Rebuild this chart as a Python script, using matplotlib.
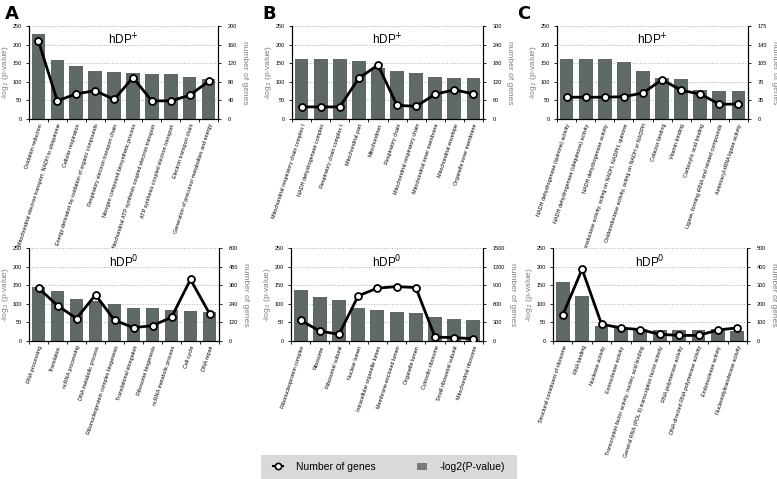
import matplotlib
matplotlib.use('Agg')
import matplotlib.pyplot as plt
from matplotlib.lines import Line2D
from matplotlib.patches import Rectangle, Patch
import numpy as np

plt.rcParams['font.family'] = ['Liberation Sans Narrow', 'Liberation Sans', 'DejaVu Sans']

# --- data ---
a_top_labels = ['Oxidation reduction',
                'Mitochondrial electron transport, NADH to ubiquinone',
                'Cellular respiration',
                'Energy derivation by oxidation of organic compounds',
                'Respiratory electron transport chain',
                'Nitrogen compound biosynthetic process',
                'Mitochondrial ATP synthesis coupled electron transport',
                'ATP synthesis coupled electron transport',
                'Electron transport chain',
                'Generation of precursor metabolites and energy']
a_top_pval = [229, 158, 142, 129, 126, 125, 122, 122, 113, 107]
a_top_genes = [167, 39, 54, 61, 42, 89, 39, 39, 51, 81]

a_bot_labels = ['RNA processing', 'Translation', 'ncRNA processing',
                'DNA metabolic process', 'Ribonucleoprotein complex biogenesis',
                'Translational elongation', 'Ribosome biogenesis',
                'ncRNA metabolic process', 'Cell cycle', 'DNA repair']
a_bot_pval = [146, 134, 114, 107, 100, 89, 88, 83, 81, 79]
a_bot_genes = [341, 229, 145, 298, 134, 86, 99, 153, 397, 177]

b_top_labels = ['Mitochondrial respiratory chain complex I',
                'NADH dehydrogenase complex', 'Respiratory chain complex I',
                'Mitochondrial part', 'Mitochondrion', 'Respiratory chain',
                'Mitochondrial respiratory chain', 'Mitochondrial inner membrane',
                'Mitochondrial envelope', 'Organelle inner membrane']
b_top_pval = [160, 160, 160, 156, 137, 129, 124, 113, 110, 110]
b_top_genes = [39, 39, 39, 132, 174, 44, 41, 80, 94, 81]

b_bot_labels = ['Ribonucleoprotein complex', 'Ribosome', 'Ribosomal subunit',
                'Nuclear lumen', 'Intracellular organelle lumen',
                'Membrane-enclosed lumen', 'Organelle lumen', 'Cytosolic ribosome',
                'Small ribosomal subunit', 'Mitochondrial ribosome']
b_bot_pval = [138, 118, 110, 90, 83, 79, 76, 64, 60, 57]
b_bot_genes = [332, 161, 107, 729, 852, 878, 862, 64, 54, 37]

c_top_labels = ['NADH dehydrogenase (quinone) activity',
                'NADH dehydrogenase (ubiquinone) activity',
                'NADH dehydrogenase activity',
                'Oxidoreductase activity, acting on NADH, NADPH, quinone',
                'Oxidoreductase activity, acting on NADH or NADPH',
                'Cofactor binding', 'Vitamin binding', 'Carboxylic acid binding',
                'Ligase, forming tRNA and related compounds',
                'Aminoacyl-tRNA ligase activity']
c_top_pval = [160, 160, 160, 154, 128, 110, 107, 77, 75, 75]
c_top_genes = [41, 41, 41, 42, 49, 74, 54, 47, 28, 28]

c_bot_labels = ['Structural constituent of ribosome', 'RNA binding',
                'Nuclease activity', 'Exonuclease activity',
                'Transcription factor activity, nucleic acid binding',
                'General RNA (POL II) transcription factor activity',
                'RNA polymerase activity', 'DNA-directed RNA polymerase activity',
                'Endonuclease activity', 'Nucleotidyltransferase activity']
c_bot_pval = [158, 122, 39, 36, 33, 30, 29, 29, 31, 28]
c_bot_genes = [139, 386, 91, 70, 61, 36, 30, 30, 59, 71]

panels = [
    # labels, pval, genes, right max, title, axes rect (px: left, top, right, bottom)
    (a_top_labels, a_top_pval, a_top_genes, 200, 'hDP$^{+}$', (29, 26, 218, 119)),
    (a_bot_labels, a_bot_pval, a_bot_genes, 600, 'hDP$^{0}$', (29, 248, 219, 341)),
    (b_top_labels, b_top_pval, b_top_genes, 300, 'hDP$^{+}$', (292, 26, 483, 119)),
    (b_bot_labels, b_bot_pval, b_bot_genes, 1500, 'hDP$^{0}$', (291, 248, 483, 341)),
    (c_top_labels, c_top_pval, c_top_genes, 175, 'hDP$^{+}$', (557, 26, 748, 119)),
    (c_bot_labels, c_bot_pval, c_bot_genes, 500, 'hDP$^{0}$', (553, 248, 747, 341)),
]

W, H = 777, 479
fig = plt.figure(figsize=(W / 100, H / 100), dpi=100)
fig.patch.set_facecolor('white')

bar_color = '#5f6a66'
gray_txt = '#7f7f7f'

for labels, pval, genes, rmax, title, (l, t, r, b) in panels:
    ax = fig.add_axes([l / W, 1 - b / H, (r - l) / W, (b - t) / H])
    x = np.arange(len(labels))
    ax.bar(x, pval, width=0.72, color=bar_color, zorder=2)
    ax.set_xlim(-0.5, len(labels) - 0.5)
    ax.set_ylim(0, 250)
    ax.set_yticks(np.arange(0, 251, 50))
    ax.yaxis.grid(True, linestyle=':', color='#b0b0b0', linewidth=0.7, zorder=0)
    ax.set_axisbelow(True)
    ax.spines['top'].set_visible(False)
    ax.tick_params(axis='y', labelsize=4, length=2, width=0.6, pad=3)
    ax.set_xticks(x)
    ax.set_xticklabels(labels, rotation=72, ha='right', rotation_mode='anchor',
                       fontsize=3.9)
    ax.tick_params(axis='x', length=0, pad=3)
    ax.set_xticks(np.arange(-0.5, len(labels), 1), minor=True)
    ax.tick_params(axis='x', which='minor', length=2, width=0.6)
    ax.set_ylabel('-log$_2$ (p-value)', color=gray_txt, fontsize=6, labelpad=1.5)
    for s in ['left', 'bottom']:
        ax.spines[s].set_linewidth(0.8)
    ax.text(0.5, 0.85, title, transform=ax.transAxes, ha='center', va='center',
            fontsize=8.5)

    ax2 = ax.twinx()
    ax2.plot(x, genes, color='black', linewidth=2, marker='o', markersize=5,
             markerfacecolor='white', markeredgecolor='black', markeredgewidth=1.3,
             zorder=3)
    ax2.set_ylim(0, rmax)
    ax2.set_yticks(np.linspace(0, rmax, 6))
    ax2.set_yticklabels([str(int(v)) for v in np.linspace(0, rmax, 6)])
    ax2.spines['top'].set_visible(False)
    ax2.spines['right'].set_linewidth(0.8)
    ax2.tick_params(axis='y', labelsize=4, length=2, width=0.6, pad=5)
    ax2.set_ylabel('number of genes', color=gray_txt, fontsize=6, rotation=270,
                   labelpad=8)

for letter, px in [('A', 5), ('B', 262), ('C', 517)]:
    fig.text(px / W, 1 - 14 / H, letter, fontsize=13, fontweight='bold',
             family='DejaVu Sans', va='center', ha='left')

# legend box
fig.patches.append(Rectangle((261 / W, 0), 256 / W, 24 / H, transform=fig.transFigure,
                             facecolor='#d9d9d9', edgecolor='none'))
handles = [Line2D([0], [0], color='black', linewidth=1.5, marker='o', markersize=4.5,
                  markerfacecolor='white', markeredgecolor='black', markeredgewidth=1.2),
           Patch(facecolor='#7a7a7a', edgecolor='none')]
fig.legend(handles, ['Number of genes', '-log2(P-value)'], ncol=2, frameon=False,
           loc='center', bbox_to_anchor=(389 / W, 12 / H), fontsize=7.5,
           handlelength=1.0, columnspacing=4, handletextpad=1.2)

fig.savefig('out.png', dpi=100)
